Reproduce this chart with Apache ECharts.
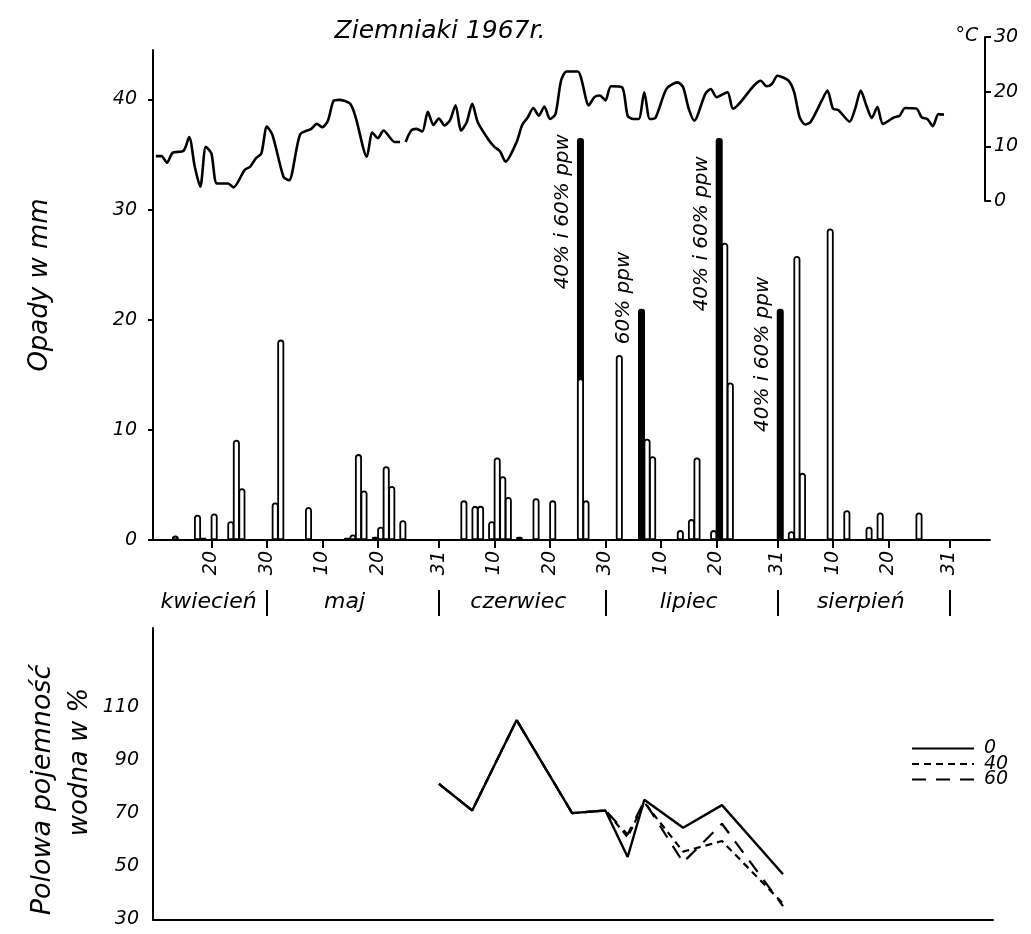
<!DOCTYPE html>
<html><head><meta charset="utf-8">
<script src="https://cdn.jsdelivr.net/npm/echarts@6/dist/echarts.min.js"></script>
<style>html,body{margin:0;padding:0;background:#fff}#c{width:1031px;height:934px}</style>
</head><body><div id="c"></div>
<script>
// ---- data (day index = days since 31 March 1967; 1 = 1 April) ----
const dayTicks = [20,30,40,50,61,71,81,91,101,111,122,132,142,153];
const dayTickLabels = ['20','30','10','20','31','10','20','30','10','20','31','10','20','31'];
const monthBounds = [30,61,91,122,153];
const monthLabelDays = [19.5,44,75.3,106,137];
const monthNames = ['kwiecień','maj','czerwiec','lipiec','sierpień'];

const rainDays = [13,17,18,20,23,24,25,31,32,37,44,45,46,47,49,50,51,52,54,65,67,68,70,71,72,73,75,78,81,86,87,93,98,99,104,106,107,110,112,113,124,125,126,131,134,138,140,147];
const rainMm   = [0.4,2.3,0.2,2.4,1.7,9.1,4.7,3.4,18.2,3.0,0.2,0.5,7.8,4.5,0.3,1.2,6.7,4.9,1.8,3.6,3.1,3.1,1.7,7.5,5.8,3.9,0.3,3.8,3.6,14.7,3.6,16.8,9.2,7.6,0.9,1.9,7.5,0.9,27.0,14.3,0.8,25.8,6.1,28.3,2.7,1.2,2.5,2.5];

const irrigDays = [86,97,111,122];
const irrigMm   = [36.5,21,36.5,21];
const irrigText = ['40% i 60% ppw','60% ppw','40% i 60% ppw','40% i 60% ppw'];

const tempDays = [10,11,12,13,15,16,17,18,19,20,21,23,24,26,27,28,29,30,31,33,34,36,38,39,40,41,42,43,45,46,48,49,50,51,53,54,54.5,55,56,57,58,59,60,61,62,63,64,65,66,67,68,70,71,72,73,75,76,77,78,79,80,81,82,83,84,86,88,89,90,91,92,94,95,96,97,98,99,100,102,104,105,106,107,109,110,111,113,114,119,120,121,122,124,125,126,127,128,130,131,132,133,135,136,137,138,139,140,141,143,144,145,147,148,149,150,151,152];
const tempC = [8.2,8.2,7.0,8.8,9.2,11.7,6.3,2.6,9.9,8.7,3.2,3.2,2.5,5.7,6.3,7.8,8.7,13.6,12.1,4.4,3.8,12.2,13.2,14.1,13.5,14.7,18.3,18.5,17.8,15.3,8.1,12.5,11.5,12.9,10.8,10.8,null,10.8,12.9,13.2,12.7,16.3,13.9,15.1,13.8,14.8,17.5,12.9,14.4,17.8,14.4,11.1,9.9,9.1,7.2,10.8,13.9,15.3,17.0,15.6,17.3,15.0,15.9,22.0,23.7,23.7,17.5,19.0,19.3,18.4,21.0,20.8,15.6,15.0,15.0,19.9,15.0,15.2,20.5,21.7,20.8,16.9,14.7,19.6,20.5,19.0,19.9,16.9,22.0,21.0,21.4,22.9,22.0,19.9,15.3,14.0,14.5,18.4,20.2,16.9,16.6,14.5,16.9,20.2,17.5,15.2,17.2,14.1,15.3,15.6,17.0,16.9,15.3,15.0,13.7,15.9,15.8];

const moistDays = [61,67,75,85,91,95,98,105,112,123];
const moist0  = [81,71,105,70,71,53.5,75,64.5,73,47];
const moist40 = [81,71,105,70,71,61,74,55.5,59.5,36];
const moist60 = [81,71,105,70,71,62,74.5,51.5,66,35];

const precipTicks = [0,10,20,30,40];
const tempTicks = [0,10,20,30];
const moistTicks = [30,50,70,90,110];

// ---- layout / style ----
const FONT = 'DejaVu Sans';
const pxPerDay = 5.55;
const dayAtLeft = 9.48;
const G0 = {left:153, right:41, top:50, height:490};
const G1 = {left:153, right:46, top:37, height:164};
const G2 = {left:153, right:38, top:628, height:291.5};
const W = 1031;
const maxFor = g => dayAtLeft + (W - g.left - g.right) / pxPerDay;
const barShift = 0.5; // bars drawn at the centre of their day
const irrigLabelDy = [-4,-57,18,-32];

const txt = (size, extra) => Object.assign({fontFamily:FONT, fontStyle:'italic', fontSize:size, color:'#000'}, extra||{});
const black = {color:'#000', width:2};
const lookup = (keys, vals) => { const m = {}; keys.forEach((k,i)=>m[k]=vals[i]); return v => (m[v] !== undefined ? m[v] : ''); };

const rainData = rainDays.map((d,i)=>[d, rainMm[i]]);
const irrigData = irrigDays.map((d,i)=>({value:[d, irrigMm[i]], label:{position:[-14, irrigLabelDy[i]]}}));
const tempData = tempDays.map((d,i)=>[d, tempC[i]]);
const mk = arr => moistDays.map((d,i)=>[d, arr[i]]);

const chart = echarts.init(document.getElementById('c'), null, {renderer:'canvas'});
chart.setOption({
  animation:false,
  backgroundColor:'#fff',
  grid:[
    Object.assign({}, G0),
    Object.assign({}, G1),
    Object.assign({}, G2)
  ],
  xAxis:[
    {gridIndex:0, type:'value', min:dayAtLeft, max:maxFor(G0),
     axisLine:{show:true, lineStyle:black}, splitLine:{show:false},
     axisTick:{show:true, customValues:dayTicks, length:8, lineStyle:black},
     axisLabel:{show:true, customValues:dayTicks, formatter:lookup(dayTicks, dayTickLabels), rotate:90, margin:11, ...txt(19)}},
    {gridIndex:0, type:'value', min:dayAtLeft-barShift, max:maxFor(G0)-barShift, show:false, splitLine:{show:false}},
    {gridIndex:0, type:'value', min:dayAtLeft, max:maxFor(G0), position:'bottom', offset:50,
     axisLine:{show:false}, splitLine:{show:false},
     axisTick:{show:true, customValues:monthBounds, length:26, lineStyle:black},
     axisLabel:{show:true, customValues:monthLabelDays, formatter:lookup(monthLabelDays, monthNames), margin:1, ...txt(22)}},
    {gridIndex:1, type:'value', min:dayAtLeft, max:maxFor(G1), show:false, splitLine:{show:false}},
    {gridIndex:2, type:'value', min:dayAtLeft, max:maxFor(G2),
     axisLine:{show:true, lineStyle:black}, axisTick:{show:false}, axisLabel:{show:false}, splitLine:{show:false}}
  ],
  yAxis:[
    {gridIndex:0, type:'value', min:0, max:44.5,
     axisLine:{show:true, lineStyle:black}, splitLine:{show:false},
     axisTick:{show:true, customValues:precipTicks, length:5, lineStyle:black},
     axisLabel:{show:true, customValues:precipTicks, margin:16, ...txt(19)}},
    {gridIndex:1, type:'value', min:0, max:30, position:'right',
     axisLine:{show:true, lineStyle:black}, splitLine:{show:false},
     axisTick:{show:true, customValues:tempTicks, length:6, lineStyle:black},
     axisLabel:{show:true, customValues:tempTicks, margin:9, ...txt(19)}},
    {gridIndex:2, type:'value', min:30, max:139.6,
     axisLine:{show:true, lineStyle:black}, splitLine:{show:false},
     axisTick:{show:false},
     axisLabel:{show:true, customValues:moistTicks, margin:14, ...txt(19)}}
  ],
  legend:{
    orient:'vertical', left:911, top:739, padding:0, itemGap:-3.5,
    itemWidth:62, itemHeight:12,
    data:['0','40','60'],
    itemStyle:{color:'rgba(0,0,0,0)', borderColor:'rgba(0,0,0,0)', borderWidth:0},
    textStyle:txt(19, {lineHeight:15, padding:[0,0,0,5]})
  },
  graphic:[
    {type:'text', x:440, y:31, style:{text:'Ziemniaki 1967r.', align:'center', verticalAlign:'middle', font:'italic 25px "DejaVu Sans"', fill:'#000'}},
    {type:'text', x:967, y:36, style:{text:'°C', align:'center', verticalAlign:'middle', font:'italic 19px "DejaVu Sans"', fill:'#000'}},
    {type:'text', x:40, y:285, rotation:Math.PI/2, style:{text:'Opady w mm', align:'center', verticalAlign:'middle', font:'italic 26px "DejaVu Sans"', fill:'#000'}},
    {type:'text', x:43, y:790, rotation:Math.PI/2, style:{text:'Polowa pojemność', align:'center', verticalAlign:'middle', font:'italic 27px "DejaVu Sans"', fill:'#000'}},
    {type:'text', x:80, y:762, rotation:Math.PI/2, style:{text:'wodna w %', align:'center', verticalAlign:'middle', font:'italic 26px "DejaVu Sans"', fill:'#000'}}
  ],
  series:[
    {name:'nawadnianie', type:'bar', xAxisIndex:1, yAxisIndex:0, data:irrigData,
     barWidth:7, barGap:'-100%', z:2,
     itemStyle:{color:'#000', borderRadius:[3,3,0,0]},
     label:{show:true, rotate:90, align:'right', verticalAlign:'middle',
            formatter:p=>irrigText[p.dataIndex], ...txt(20)}},
    {name:'opady', type:'bar', xAxisIndex:1, yAxisIndex:0, data:rainData,
     barWidth:7, barGap:'-100%', z:3,
     itemStyle:{color:'#fff', borderColor:'#000', borderWidth:1.8, borderRadius:[3,3,0,0]}},
    {name:'temperatura', type:'line', xAxisIndex:3, yAxisIndex:1, data:tempData,
     symbol:'none', smooth:0.25, connectNulls:false,
     lineStyle:{color:'#000', width:2.6}},
    {name:'60', type:'line', xAxisIndex:4, yAxisIndex:2, data:mk(moist60), symbol:'none',
     lineStyle:{color:'#000', width:2.2, type:[14,10]}, itemStyle:{color:'#000'}},
    {name:'40', type:'line', xAxisIndex:4, yAxisIndex:2, data:mk(moist40), symbol:'none',
     lineStyle:{color:'#000', width:2.2, type:[7,5]}, itemStyle:{color:'#000'}},
    {name:'0', type:'line', xAxisIndex:4, yAxisIndex:2, data:mk(moist0), symbol:'none',
     lineStyle:{color:'#000', width:2.4}, itemStyle:{color:'#000'}}
  ]
});
</script>
</body></html>
